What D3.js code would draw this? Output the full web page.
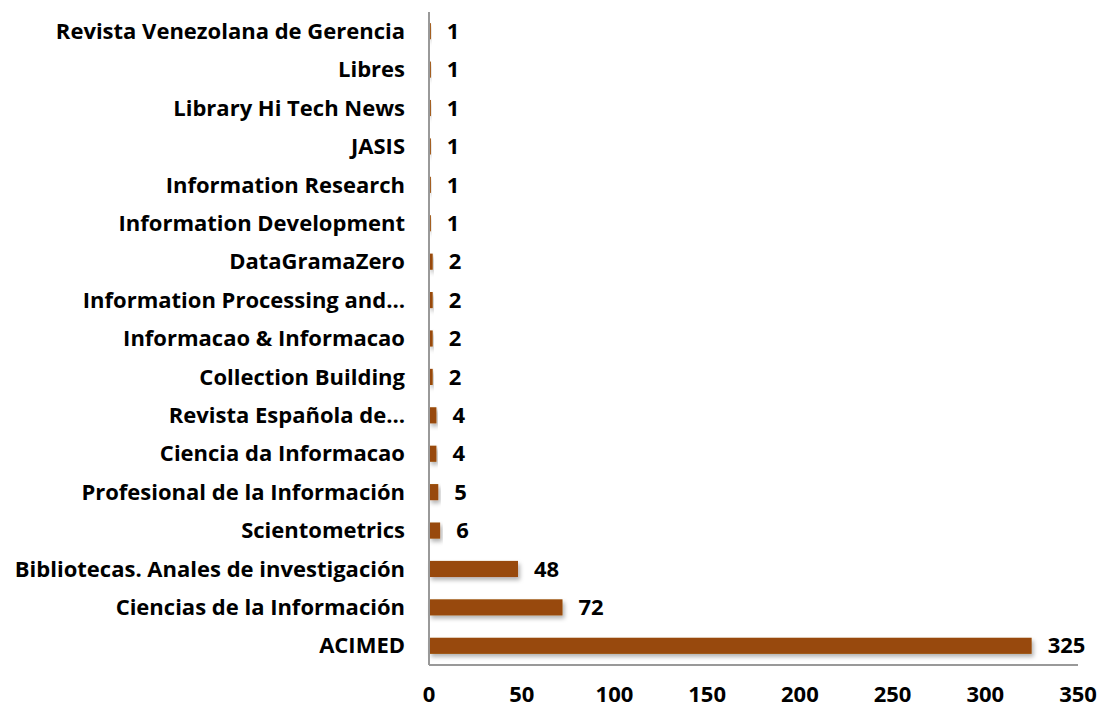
<!DOCTYPE html>
<html>
<head>
<meta charset="utf-8">
<script src="https://cdn.jsdelivr.net/npm/d3@7"></script>
<style>
  body { margin: 0; background: #fff; }
  text { font-family: "Open Sans", sans-serif; font-weight: bold; fill: #000; }
</style>
</head>
<body>
<svg id="chart" width="1102" height="709"></svg>
<script>
// journals, top to bottom
const journals = [
    "Revista Venezolana de Gerencia",
    "Libres",
    "Library Hi Tech News",
    "JASIS",
    "Information Research",
    "Information Development",
    "DataGramaZero",
    "Information Processing and…",
    "Informacao & Informacao",
    "Collection Building",
    "Revista Española de…",
    "Ciencia da Informacao",
    "Profesional de la Información",
    "Scientometrics",
    "Bibliotecas. Anales de investigación",
    "Ciencias de la Información",
    "ACIMED"
];
const counts = [1, 1, 1, 1, 1, 1, 2, 2, 2, 2, 4, 4, 5, 6, 48, 72, 325];
const xTicks = [0, 50, 100, 150, 200, 250, 300, 350];

const barColor = "#984907";

const svg = d3.select("#chart");

// shadow under the bars
const defs = svg.append("defs");
defs.append("filter")
    .attr("id", "shadow")
    .attr("x", "-10%").attr("y", "-50%")
    .attr("width", "130%").attr("height", "250%")
    .append("feDropShadow")
    .attr("dx", 2).attr("dy", 3)
    .attr("stdDeviation", 2)
    .attr("flood-color", "#000")
    .attr("flood-opacity", 0.3);

const x = d3.scaleLinear().domain([0, 350]).range([429, 1078]);
const y = d3.scaleBand().domain(journals).range([12, 665]).paddingInner(0.58).paddingOuter(0.29);

// bars
svg.append("g")
    .selectAll("rect")
    .data(journals)
    .join("rect")
    .attr("x", x(0))
    .attr("y", d => y(d))
    .attr("width", (d, i) => x(counts[i]) - x(0))
    .attr("height", y.bandwidth())
    .attr("fill", barColor)
    .attr("filter", "url(#shadow)");

// axis lines
svg.append("line")
    .attr("x1", x(0)).attr("x2", x(0))
    .attr("y1", 12).attr("y2", 665)
    .attr("stroke", "#999").attr("stroke-width", 2);
svg.append("line")
    .attr("x1", x(0)).attr("x2", x(350))
    .attr("y1", 665).attr("y2", 665)
    .attr("stroke", "#999").attr("stroke-width", 2);

// category labels
svg.append("g")
    .selectAll("text")
    .data(journals)
    .join("text")
    .attr("x", 405)
    .attr("y", d => y(d) + y.bandwidth() / 2)
    .attr("dy", "0.35em")
    .attr("text-anchor", "end")
    .style("font-size", "22px")
    .text(d => d);

// value labels
svg.append("g")
    .selectAll("text")
    .data(journals)
    .join("text")
    .attr("x", (d, i) => x(counts[i]) + 16)
    .attr("y", d => y(d) + y.bandwidth() / 2)
    .attr("dy", "0.35em")
    .style("font-size", "22px")
    .text((d, i) => counts[i]);

// x tick labels
svg.append("g")
    .selectAll("text")
    .data(xTicks)
    .join("text")
    .attr("x", d => x(d))
    .attr("y", 702)
    .attr("text-anchor", "middle")
    .style("font-size", "22px")
    .text(d => d);
</script>
</body>
</html>
